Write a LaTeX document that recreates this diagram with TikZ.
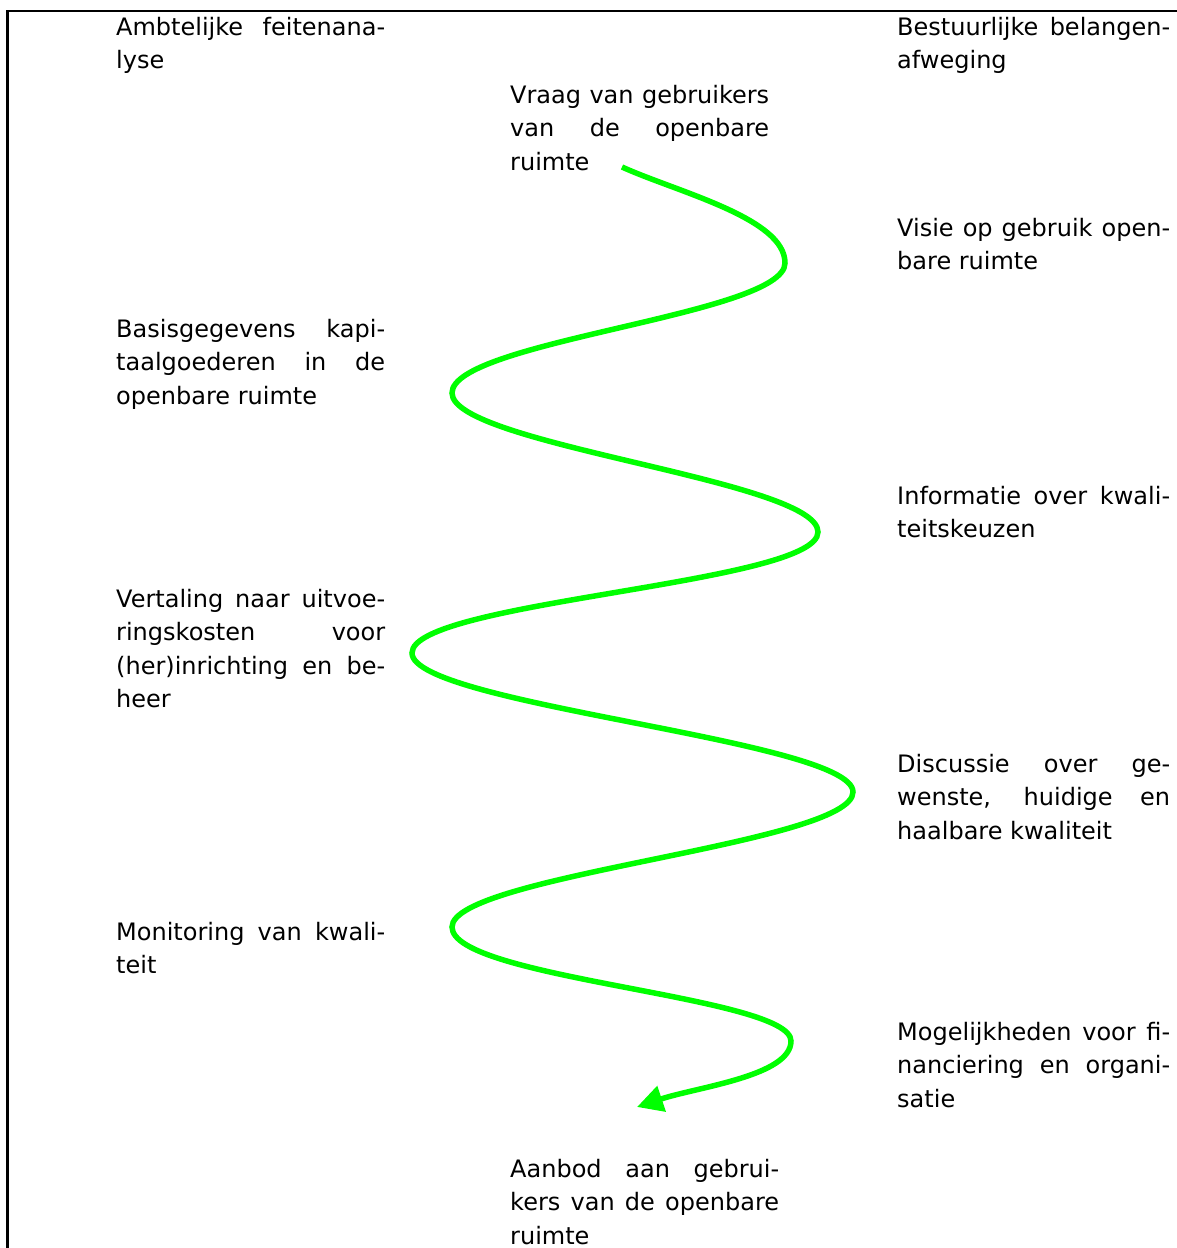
\documentclass[tikz,border=0pt]{standalone}
\usepackage{fontspec}
\setmainfont{DejaVu Sans}
\usetikzlibrary{arrows.meta}
\definecolor{wave}{RGB}{0,255,0}
\newcommand{\jln}[2]{\hbox{\makebox[#1][s]{#2}}}
\newcommand{\lln}[2]{\hbox{\makebox[#1][l]{#2}}}
\newcommand{\blk}[1]{\vtop{\baselineskip=33.5pt\lineskiplimit=-100pt\lineskip=0pt\relax #1}}
\begin{document}
\begin{tikzpicture}[x=1pt,y=-1pt,
  txt/.style={anchor=base west, inner sep=0pt, font=\fontsize{24pt}{33.5pt}\selectfont},
  frameline/.style={line width=2.5pt, black},
  waveline/.style={line width=5.5pt, draw=wave, -{Triangle[length=26pt,width=26pt,fill=wave]}}]
\useasboundingbox (0,0) rectangle (1177,1248);
% frame
\coordinate (fa) at (7.5,1248);
\coordinate (fb) at (7.5,11);
\coordinate (fc) at (1177,11);
\draw[frameline] (fa) -- (fb) -- (fc);
% left column
\node[txt] (l1) at (116,35) {\blk{\jln{269pt}{Ambtelijke feitenana-}\lln{269pt}{lyse}}};
\node[txt] (l2) at (116,337) {\blk{\jln{269pt}{Basisgegevens kapi-}\jln{269pt}{taalgoederen in de}\lln{269pt}{openbare ruimte}}};
\node[txt] (l3) at (116,607) {\blk{\jln{269pt}{Vertaling naar uitvoe-}\jln{269pt}{ringskosten voor}\jln{269pt}{(her)inrichting en be-}\lln{269pt}{heer}}};
\node[txt] (l4) at (116,940) {\blk{\jln{269pt}{Monitoring van kwali-}\lln{269pt}{teit}}};
% right column
\node[txt] (r1) at (897,35) {\blk{\jln{273pt}{Bestuurlijke belangen-}\lln{273pt}{afweging}}};
\node[txt] (r2) at (897,236) {\blk{\jln{273pt}{Visie op gebruik open-}\lln{273pt}{bare ruimte}}};
\node[txt] (r3) at (897,504) {\blk{\jln{273pt}{Informatie over kwali-}\lln{273pt}{teitskeuzen}}};
\node[txt] (r4) at (897,772) {\blk{\jln{273pt}{Discussie over ge-}\jln{273pt}{wenste, huidige en}\lln{273pt}{haalbare kwaliteit}}};
\node[txt] (r5) at (897,1040) {\blk{\jln{273pt}{Mogelijkheden voor fi-}\jln{273pt}{nanciering en organi-}\lln{273pt}{satie}}};
% middle
\node[txt] (m1) at (510,103) {\blk{\jln{259pt}{Vraag van gebruikers}\jln{259pt}{van de openbare}\lln{259pt}{ruimte}}};
\node[txt] (m2) at (510,1177) {\blk{\jln{269pt}{Aanbod aan gebrui-}\jln{269pt}{kers van de openbare}\lln{269pt}{ruimte}}};
% wave
\coordinate (s) at (622,167);
\coordinate (t1) at (785,263);
\coordinate (t2) at (452,393);
\coordinate (t3) at (818,532);
\coordinate (t4) at (412,653);
\coordinate (t5) at (853,792);
\coordinate (t6) at (452,927);
\coordinate (t7) at (791,1041);
\coordinate (e) at (637,1107);
\draw[waveline] (s) .. controls +(55,25) and +(0,-45) .. (t1)
  .. controls +(0,52) and +(0,-52) .. (t2)
  .. controls +(0,52) and +(0,-52) .. (t3)
  .. controls +(0,52) and +(0,-52) .. (t4)
  .. controls +(0,52) and +(0,-52) .. (t5)
  .. controls +(0,52) and +(0,-52) .. (t6)
  .. controls +(0,52) and +(0,-45) .. (t7)
  .. controls +(0,35) and +(60,-20) .. (e);
\end{tikzpicture}
\end{document}
